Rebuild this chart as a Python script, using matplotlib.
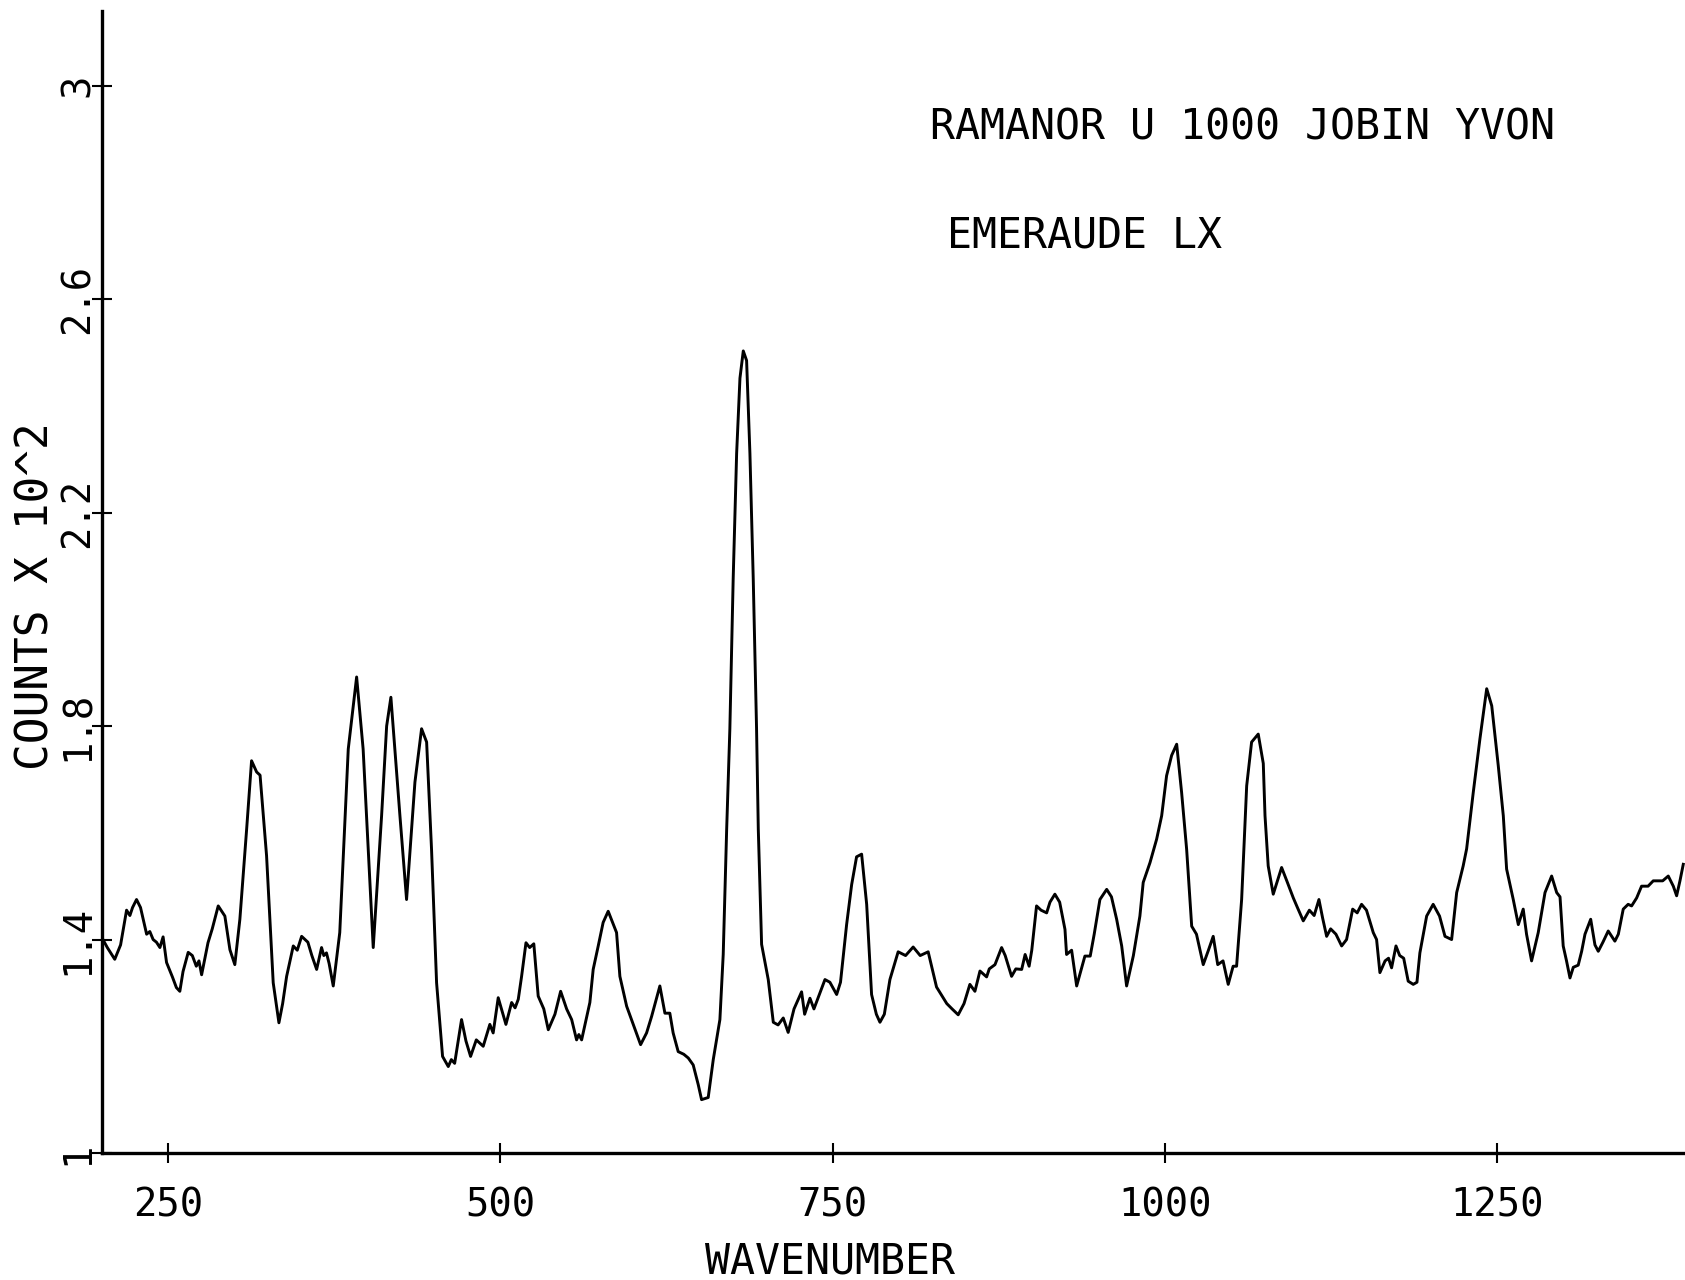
import matplotlib
matplotlib.use("Agg")
import matplotlib.pyplot as plt

wavenumber = [
    200.7, 204, 209.6, 214, 218.5, 221, 223, 226, 229, 233.6, 236, 238.5, 241, 243.6, 246, 248.6,
    253, 256, 258.6, 261, 264.9, 268, 271, 273, 275, 279.8, 283, 287.5, 292.5, 296.3, 300, 303.8,
    308.9, 312.6, 316.4, 319, 323.9, 328.9, 333.2, 336, 339, 344, 347, 350.3, 355, 358, 361.6,
    365.3, 367, 369, 371, 374.1, 379, 385.4, 391.7, 396.6, 401.7, 404.2, 410.5, 414.3, 417.5,
    424.3, 429.3, 435.6, 440.6, 444.4, 448.1, 451.9, 456.4, 460.7, 463, 465.5, 470.7, 474, 477.5,
    481.8, 487, 492, 494.5, 498.3, 504.1, 508.4, 511, 513.4, 515.9, 519.2, 522, 525.1, 528.4,
    532.6, 536, 541, 545.3, 549.8, 553.6, 557.3, 559, 561.1, 567.3, 569.8, 573.6, 577.3, 581.1,
    587.4, 589.9, 595, 600, 605.5, 610, 613.8, 620, 623.8, 627.5, 630, 633.8, 638, 641.4, 645.1,
    648.9, 651.4, 656.4, 660.2, 665.2, 667.7, 670.3, 672.7, 675.2, 677.8, 680.3, 682.8, 685.3,
    687.8, 690.3, 692.8, 694.1, 696.6, 701.6, 705.4, 709, 712.9, 716.6, 721, 726.7, 729, 733,
    736, 739, 744.3, 748, 753.1, 756, 760.6, 764.4, 768.1, 771.9, 775.7, 779.4, 783, 785.7, 789,
    793.2, 799.4, 805, 810.7, 816, 822, 828.3, 836, 840, 844.6, 849, 853.4, 857.2, 861, 866, 868,
    872.3, 877.3, 880, 884.8, 888, 892.4, 895, 898, 900, 903.6, 907, 911.2, 913.7, 917.4, 921,
    925, 926.2, 930, 933.8, 940, 944, 947, 951.3, 956.4, 960, 963.9, 967.7, 971.4, 976.5, 981.4,
    983.9, 989, 994, 997.8, 1001.5, 1005.3, 1009.1, 1012.8, 1016.6, 1020.4, 1024, 1029.1, 1033,
    1036.6, 1040, 1044, 1047.9, 1051.6, 1054.2, 1058, 1061.8, 1065.5, 1070.5, 1074.3, 1075.6,
    1078, 1081.8, 1088.1, 1092, 1096.9, 1100, 1104.4, 1109, 1112.6, 1116.2, 1119, 1122, 1125,
    1129, 1133.3, 1137, 1141.6, 1145, 1148.3, 1152, 1157.1, 1159.6, 1162.1, 1166, 1168.6, 1170.9,
    1174.2, 1177, 1180, 1183.4, 1187.2, 1190, 1192.2, 1197.3, 1202.2, 1207, 1211.1, 1216.1,
    1219.9, 1224.8, 1227.4, 1232.4, 1237.4, 1242.5, 1246.3, 1251.2, 1255, 1257.5, 1262.5, 1266.3,
    1270, 1272.5, 1276.3, 1281.3, 1286.4, 1291.4, 1295.2, 1297.7, 1300.1, 1302.6, 1305.2, 1307.7,
    1311.4, 1314, 1316.5, 1320.8, 1324, 1326.5, 1330, 1334, 1339, 1341.6, 1345.3, 1349, 1351.6,
    1355.4, 1359.1, 1364, 1367.9, 1375, 1379.2, 1383, 1385.5, 1388, 1390.5,
]

counts = [
    1.40, 1.385, 1.363, 1.39, 1.455, 1.445, 1.46, 1.475, 1.46, 1.41, 1.415, 1.40, 1.395, 1.385, 1.405, 1.357,
    1.33, 1.31, 1.303, 1.34, 1.376, 1.37, 1.35, 1.36, 1.334, 1.394, 1.42, 1.463, 1.444, 1.381, 1.353, 1.438,
    1.607, 1.735, 1.714, 1.708, 1.557, 1.319, 1.244, 1.28, 1.331, 1.388, 1.38, 1.406, 1.395, 1.37, 1.344,
    1.385, 1.37, 1.375, 1.355, 1.313, 1.413, 1.757, 1.892, 1.757, 1.507, 1.385, 1.632, 1.80, 1.854,
    1.632, 1.475, 1.695, 1.795, 1.77, 1.569, 1.319, 1.181, 1.162, 1.175, 1.168, 1.25, 1.21, 1.181,
    1.212, 1.20, 1.241, 1.225, 1.291, 1.241, 1.282, 1.272, 1.288, 1.331, 1.394, 1.385, 1.392, 1.294,
    1.27, 1.231, 1.26, 1.303, 1.27, 1.25, 1.212, 1.222, 1.212, 1.282, 1.344, 1.388, 1.432, 1.453,
    1.413, 1.331, 1.275, 1.241, 1.203, 1.225, 1.256, 1.313, 1.262, 1.262, 1.225, 1.19, 1.185, 1.178, 1.165,
    1.128, 1.10, 1.104, 1.175, 1.25, 1.372, 1.607, 1.795, 2.076, 2.311, 2.452, 2.503, 2.485,
    2.311, 2.076, 1.795, 1.607, 1.391, 1.325, 1.245, 1.24, 1.253, 1.226, 1.27, 1.302, 1.26, 1.29,
    1.27, 1.29, 1.325, 1.32, 1.297, 1.32, 1.428, 1.503, 1.555, 1.56, 1.466, 1.297, 1.26, 1.245, 1.26,
    1.325, 1.377, 1.37, 1.386, 1.37, 1.377, 1.311, 1.28, 1.27, 1.259, 1.28, 1.316, 1.303, 1.341, 1.33, 1.345,
    1.353, 1.385, 1.37, 1.331, 1.345, 1.344, 1.372, 1.35, 1.38, 1.463, 1.455, 1.45, 1.47, 1.485, 1.47,
    1.419, 1.372, 1.38, 1.313, 1.369, 1.369, 1.41, 1.475, 1.494, 1.48, 1.438, 1.388, 1.313, 1.37, 1.444,
    1.507, 1.544, 1.588, 1.632, 1.707, 1.745, 1.766, 1.676, 1.569, 1.425, 1.41, 1.353, 1.38,
    1.406, 1.353, 1.36, 1.316, 1.35, 1.35, 1.475, 1.688, 1.77, 1.785, 1.73, 1.632,
    1.538, 1.485, 1.535, 1.51, 1.478, 1.46, 1.435, 1.455, 1.445, 1.475, 1.44, 1.406, 1.42,
    1.41, 1.388, 1.40, 1.457, 1.45, 1.466, 1.455, 1.413, 1.40, 1.338, 1.36, 1.365, 1.347,
    1.388, 1.37, 1.365, 1.322, 1.316, 1.32, 1.375, 1.444, 1.466, 1.444, 1.406, 1.40,
    1.488, 1.538, 1.57, 1.676, 1.776, 1.87, 1.838, 1.726, 1.632, 1.532, 1.475, 1.428,
    1.457, 1.41, 1.36, 1.413, 1.488, 1.519, 1.488, 1.48, 1.388, 1.36, 1.328, 1.348,
    1.352, 1.378, 1.41, 1.438, 1.39, 1.378, 1.395, 1.416, 1.397, 1.41, 1.457, 1.466, 1.463,
    1.478, 1.50, 1.50, 1.51, 1.51, 1.519, 1.50, 1.482, 1.51, 1.541,
]

x_ticks = [250, 500, 750, 1000, 1250]
x_tick_labels = ["250", "500", "750", "1000", "1250"]
y_ticks = [1.0, 1.4, 1.8, 2.2, 2.6, 3.0]
y_tick_labels = ["1", "1.4", "1.8", "2.2", "2.6", "3"]

title_1 = "RAMANOR U 1000 JOBIN YVON"
title_2 = "EMERAUDE LX"
x_label = "WAVENUMBER"
y_label = "COUNTS X 10^2"

FONT = ["DejaVu Sans Mono", "DejaVu Sans"]
W, H = 1685, 1280
fig = plt.figure(figsize=(W / 100, H / 100), dpi=100)
ax = fig.add_axes([102 / W, 1 - 1153 / H, 1 - 102 / W, (1153 - 11) / H])

ax.plot(wavenumber, counts, color="black", linewidth=2.1, solid_joinstyle="round")
ax.set_xlim(200, 1391.8)
ax.set_ylim(1.0, 3.14)

for s in ["top", "right"]:
    ax.spines[s].set_visible(False)
for s in ["left", "bottom"]:
    ax.spines[s].set_linewidth(2.4)
    ax.spines[s].set_color("black")

ax.set_xticks(x_ticks)
ax.set_xticklabels(x_tick_labels, fontfamily=FONT, fontsize=28)
ax.set_yticks(y_ticks)
ax.set_yticklabels(y_tick_labels, fontfamily=FONT, fontsize=28, rotation=90, va="center")
ax.tick_params(axis="x", direction="inout", length=14, width=1.5, pad=17)
ax.tick_params(axis="y", direction="inout", length=14, width=1.5, pad=-3)

fig.text(929.5 / W, 1 - 127 / H, title_1, fontfamily=FONT, fontsize=30, ha="left", va="center")
fig.text(947 / W, 1 - 236 / H, title_2, fontfamily=FONT, fontsize=30, ha="left", va="center")
fig.text(830 / W, 1 - 1261 / H, x_label, fontfamily=FONT, fontsize=30, ha="center", va="center")
fig.text(36 / W, 1 - 596 / H, y_label, fontfamily=FONT, fontsize=32, ha="center", va="center",
         rotation=90)

fig.savefig("out.png", dpi=100, facecolor="white")
